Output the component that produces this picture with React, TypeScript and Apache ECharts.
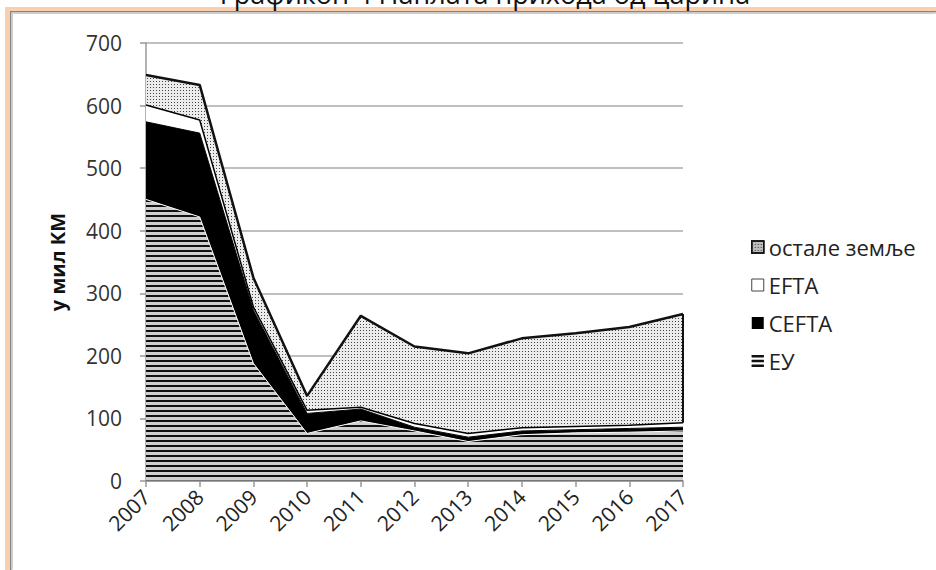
import React, { useEffect, useRef } from "react";
import * as echarts from "echarts";

const years = ["2007", "2008", "2009", "2010", "2011", "2012", "2013", "2014", "2015", "2016", "2017"];
const euValues = [450, 422, 188, 76, 96, 80, 63, 74, 77, 78, 80];
const ceftaValues = [124, 134, 85, 32, 19, 6, 7, 6, 5, 6, 6];
const eftaValues = [27, 21, 5, 5, 3, 6, 6, 5, 5, 5, 7];
const otherValues = [48, 56, 47, 23, 146, 123, 128, 143, 149, 157, 174];
const yTicks = [0, 100, 200, 300, 400, 500, 600, 700];

const FONT = "'Open Sans', 'Noto Sans', sans-serif";

export default function App() {
  const ref = useRef<HTMLDivElement>(null);
  useEffect(() => {
    if (!ref.current) return;
    const chart = echarts.init(ref.current, null, { renderer: "svg" });
    const stripeDecal = {
      symbol: "rect",
      symbolSize: 1,
      color: "#111",
      dashArrayX: [[1, 0]],
      dashArrayY: [2, 3],
      rotation: 0,
    };
    const dotDecal = {
      symbol: "rect",
      symbolSize: 1,
      color: "#444",
      dashArrayX: [1, 2],
      dashArrayY: [1, 2],
      rotation: 0,
    };
    const last = years.length - 1;
    const belowOther = euValues[last] + ceftaValues[last] + eftaValues[last];
    const totalLast = belowOther + otherValues[last];
    chart.setOption({
      animation: false,
      backgroundColor: "#fff",
      textStyle: { fontFamily: FONT },
      graphic: [
        { type: "rect", shape: { x: 5, y: 7, width: 5, height: 563 }, style: { fill: "#f9cfae" }, silent: true },
        { type: "rect", shape: { x: 5, y: 7, width: 931, height: 4 }, style: { fill: "#f9cfae" }, silent: true },
        { type: "rect", shape: { x: 10, y: 11, width: 1.5, height: 559 }, style: { fill: "#858585" }, silent: true },
        { type: "rect", shape: { x: 10, y: 11, width: 926, height: 1.5 }, style: { fill: "#858585" }, silent: true },
        { type: "rect", shape: { x: 11.5, y: 12.5, width: 1.5, height: 557 }, style: { fill: "#cfcfcf" }, silent: true },
        { type: "rect", shape: { x: 11.5, y: 12.5, width: 924, height: 1.5 }, style: { fill: "#cfcfcf" }, silent: true },
        {
          type: "text",
          x: 485,
          y: 7,
          style: {
            text: "Графикон 4 Наплата прихода од царина",
            font: `27px ${FONT}`,
            fill: "#111",
            align: "center",
            verticalAlign: "bottom",
          },
          silent: true,
        },
      ],
      grid: { left: 146, right: 253, top: 43, bottom: 89, containLabel: false },
      legend: {
        orient: "vertical",
        left: 746,
        top: 231,
        itemGap: 16,
        itemWidth: 12,
        itemHeight: 12,
        textStyle: { fontSize: 22, color: "#222", fontFamily: FONT },
        data: [
          { name: "остале земље", icon: "rect", itemStyle: { color: "#bbb", borderColor: "#111", borderWidth: 1.5 } },
          { name: "EFTA", icon: "rect", itemStyle: { color: "#fff", borderColor: "#444", borderWidth: 1 } },
          { name: "CEFTA", icon: "rect", itemStyle: { color: "#000", borderColor: "#000", borderWidth: 0 } },
          {
            name: "ЕУ",
            icon: "path://M0,0H10V2H0Z M0,4H10V6H0Z M0,8H10V10H0Z",
            itemStyle: { color: "#111", borderWidth: 0 },
          },
        ],
      },
      xAxis: {
        type: "category",
        data: years,
        boundaryGap: false,
        axisLine: { lineStyle: { color: "#999", width: 1.5 } },
        axisTick: { show: true, length: 6, lineStyle: { color: "#999", width: 1.5 } },
        axisLabel: { rotate: 45, fontSize: 21, color: "#222", margin: 12, fontFamily: FONT },
        splitLine: { show: false },
        z: 10,
      },
      yAxis: {
        type: "value",
        min: 0,
        max: 700,
        interval: 100,
        name: "у мил КМ",
        nameLocation: "middle",
        nameGap: 79,
        nameTextStyle: { fontSize: 20, fontWeight: "bold", color: "#111", fontFamily: FONT },
        axisLine: { show: true, lineStyle: { color: "#999", width: 1.5 } },
        axisTick: { show: true, length: 6, lineStyle: { color: "#999", width: 1.5 } },
        axisLabel: {
          fontSize: 21,
          color: "#333",
          margin: 24,
          fontFamily: FONT,
          formatter: (v: number) => (yTicks.includes(v) ? String(v) : ""),
        },
        splitLine: { show: true, lineStyle: { color: "#ababab", width: 1.5 } },
      },
      series: [
        {
          name: "ЕУ",
          type: "line",
          stack: "total",
          data: euValues,
          symbol: "none",
          lineStyle: { width: 1, color: "#fff", decal: stripeDecal },
          itemStyle: { color: "#cfcfcf", decal: stripeDecal },
          areaStyle: { color: "#cfcfcf", opacity: 1 },
          z: 2,
        },
        {
          name: "CEFTA",
          type: "line",
          stack: "total",
          data: ceftaValues,
          symbol: "none",
          lineStyle: { width: 1, color: "#000" },
          itemStyle: { color: "#000" },
          areaStyle: { color: "#000", opacity: 1 },
          z: 2,
        },
        {
          name: "EFTA",
          type: "line",
          stack: "total",
          data: eftaValues,
          symbol: "none",
          lineStyle: { width: 1.5, color: "#000" },
          itemStyle: { color: "#fff" },
          areaStyle: { color: "#fff", opacity: 1 },
          z: 2,
        },
        {
          name: "остале земље",
          type: "line",
          stack: "total",
          data: otherValues,
          symbol: "none",
          lineStyle: { width: 2.5, color: "#111", decal: dotDecal },
          itemStyle: { color: "#ececec", decal: dotDecal },
          areaStyle: { color: "#ececec", opacity: 1 },
          markLine: {
            silent: true,
            symbol: "none",
            label: { show: false },
            lineStyle: { color: "#111", width: 2, type: "solid" },
            data: [[{ coord: [years[last], belowOther] }, { coord: [years[last], totalLast] }]],
          },
          z: 2,
        },
      ],
    });
    return () => chart.dispose();
  }, []);
  return (
    <div
      ref={ref}
      style={{ position: "absolute", left: 0, top: 0, width: 936, height: 570 }}
    />
  );
}
